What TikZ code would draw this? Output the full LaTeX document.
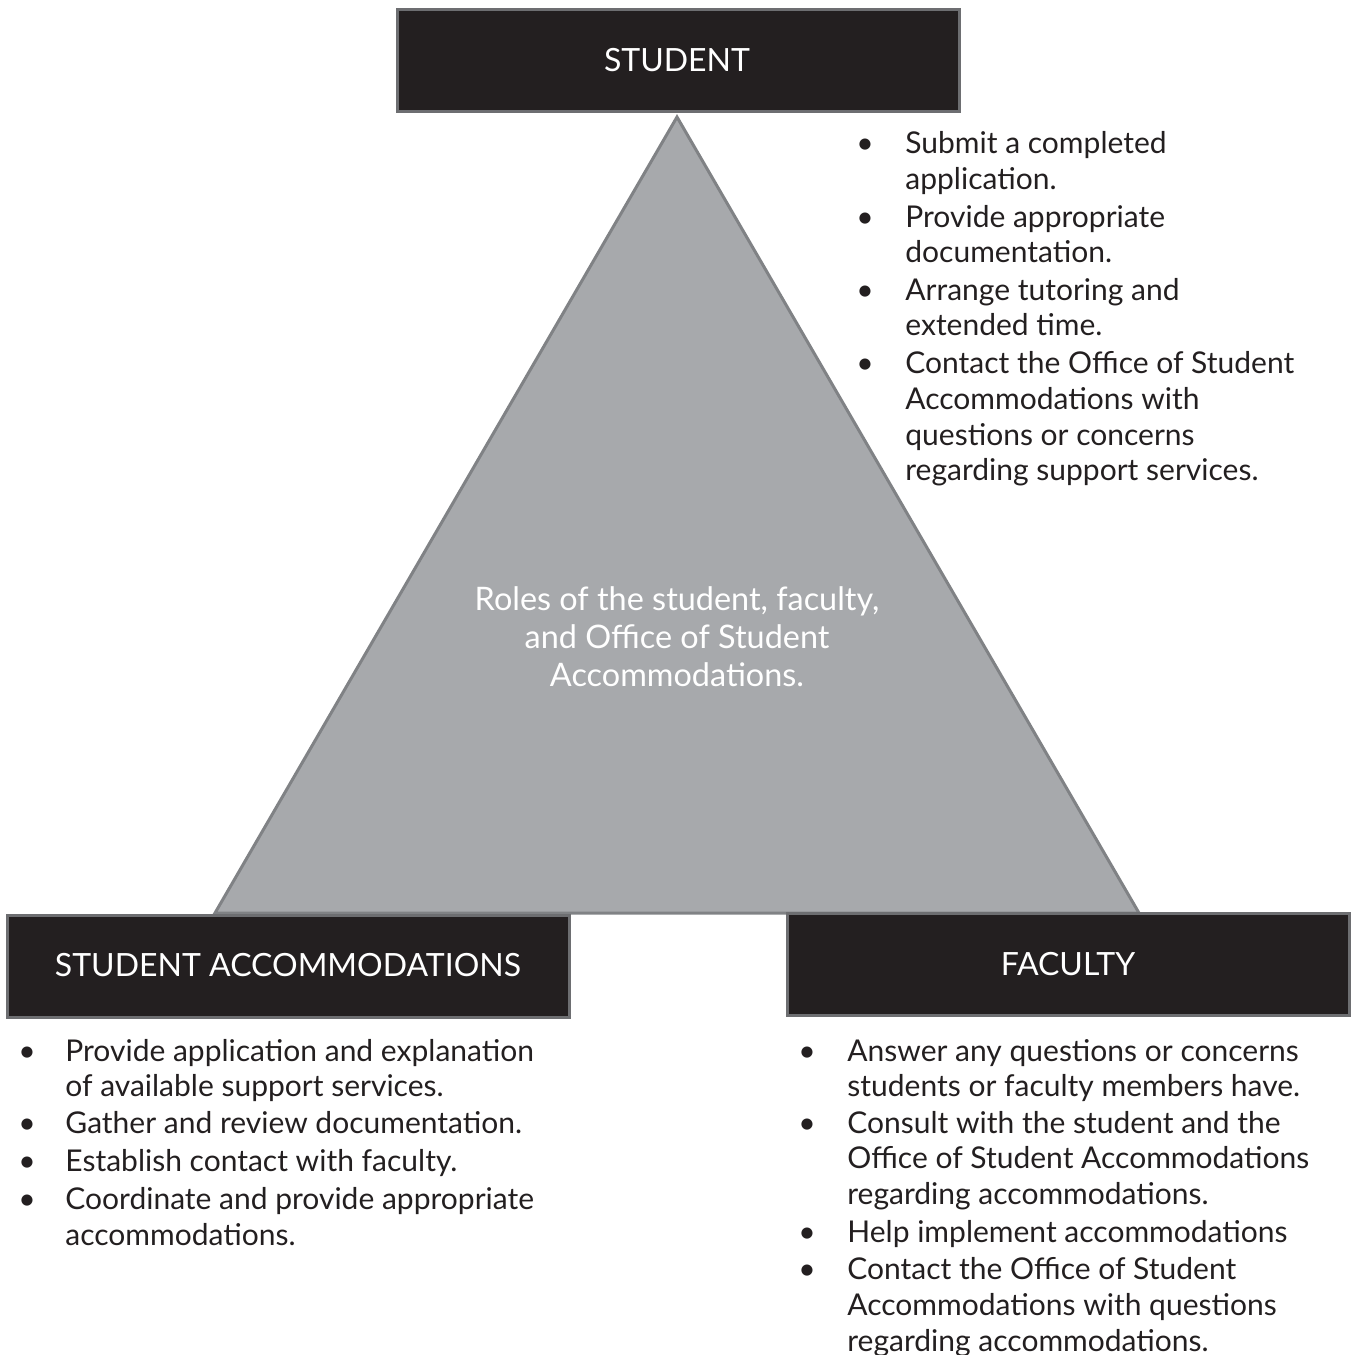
\documentclass[tikz,border=0pt]{standalone}
\usepackage{fontspec}
\setmainfont{Lato}
\definecolor{boxfill}{HTML}{231F20}
\definecolor{boxedge}{HTML}{6D6E71}
\definecolor{trifill}{HTML}{A7A9AC}
\definecolor{triedge}{HTML}{808285}
\definecolor{txtcol}{HTML}{231F20}
\begin{document}
\begin{tikzpicture}[x=0.5pt,y=-0.5pt,
  hdr/.style={draw=boxedge,line width=1.5pt,fill=boxfill},
  hdrtxt/.style={text=white,font=\fontsize{16}{19}\selectfont,inner sep=0pt,anchor=center},
  txt/.style={text=txtcol,font=\fontsize{15}{18}\selectfont,inner sep=0pt,anchor=mid west,yshift=-3pt},
  bul/.style={text=txtcol,font=\fontsize{15}{18}\selectfont,inner sep=0pt,anchor=mid,yshift=-3pt},
  ctr/.style={text=white,font=\fontsize{16.2}{19}\selectfont,inner sep=0pt,anchor=mid,yshift=-3pt}]
\useasboundingbox (0,0) rectangle (1351,1355);
% triangle
\coordinate (apex) at (677,117);
\coordinate (bl) at (215,913);
\coordinate (br) at (1139,913);
\filldraw[fill=trifill,draw=triedge,line width=1.5pt,line join=miter] (apex) -- (br) -- (bl) -- cycle;
% header boxes
\draw[hdr] (397,9) rectangle (959,111);
\draw[hdr] (7,915) rectangle (569,1017);
\draw[hdr] (787,913) rectangle (1349,1015);
\node[hdrtxt] (hstudent) at (677,60) {STUDENT};
\node[hdrtxt] (hsa) at (288,965) {STUDENT ACCOMMODATIONS};
\node[hdrtxt] (hfac) at (1068,964) {FACULTY};
% centre text
\node[ctr] (c1) at (677,599) {Roles of the student, faculty,};
\node[ctr] (c2) at (677,637) {and Office of Student};
\node[ctr] (c3) at (677,675) {Accommodations.};
% student list
\foreach \t/\y [count=\i] in {Submit a completed/142, application./178, Provide appropriate/216, documentation./251, Arrange tutoring and/289, extended time./324, Contact the Office of Student/362, Accommodations with/398, questions or concerns/434, regarding support services./469}
  \node[txt] (st\i) at (905,\y) {\t};
\foreach \y [count=\i] in {142,216,289,362}
  \node[bul] (sb\i) at (865,\y) {\textbullet};
% student accommodations list
\foreach \t/\y [count=\i] in {Provide application and explanation/1050, of available support services./1085, Gather and review documentation./1122, Establish contact with faculty./1160, Coordinate and provide appropriate/1198, accommodations./1234}
  \node[txt] (sa\i) at (65,\y) {\t};
\foreach \y [count=\i] in {1050,1122,1160,1198}
  \node[bul] (sab\i) at (27,\y) {\textbullet};
% faculty list
\foreach \t/\y [count=\i] in {Answer any questions or concerns/1050, students or faculty members have./1085, Consult with the student and the/1122, Office of Student Accommodations/1157, regarding accommodations./1193, Help implement accommodations/1231, Contact the Office of Student/1268, Accommodations with questions/1304, regarding accommodations./1340}
  \node[txt] (fa\i) at (847,\y) {\t};
\foreach \y [count=\i] in {1050,1122,1231,1268}
  \node[bul] (fab\i) at (807,\y) {\textbullet};
\end{tikzpicture}
\end{document}
